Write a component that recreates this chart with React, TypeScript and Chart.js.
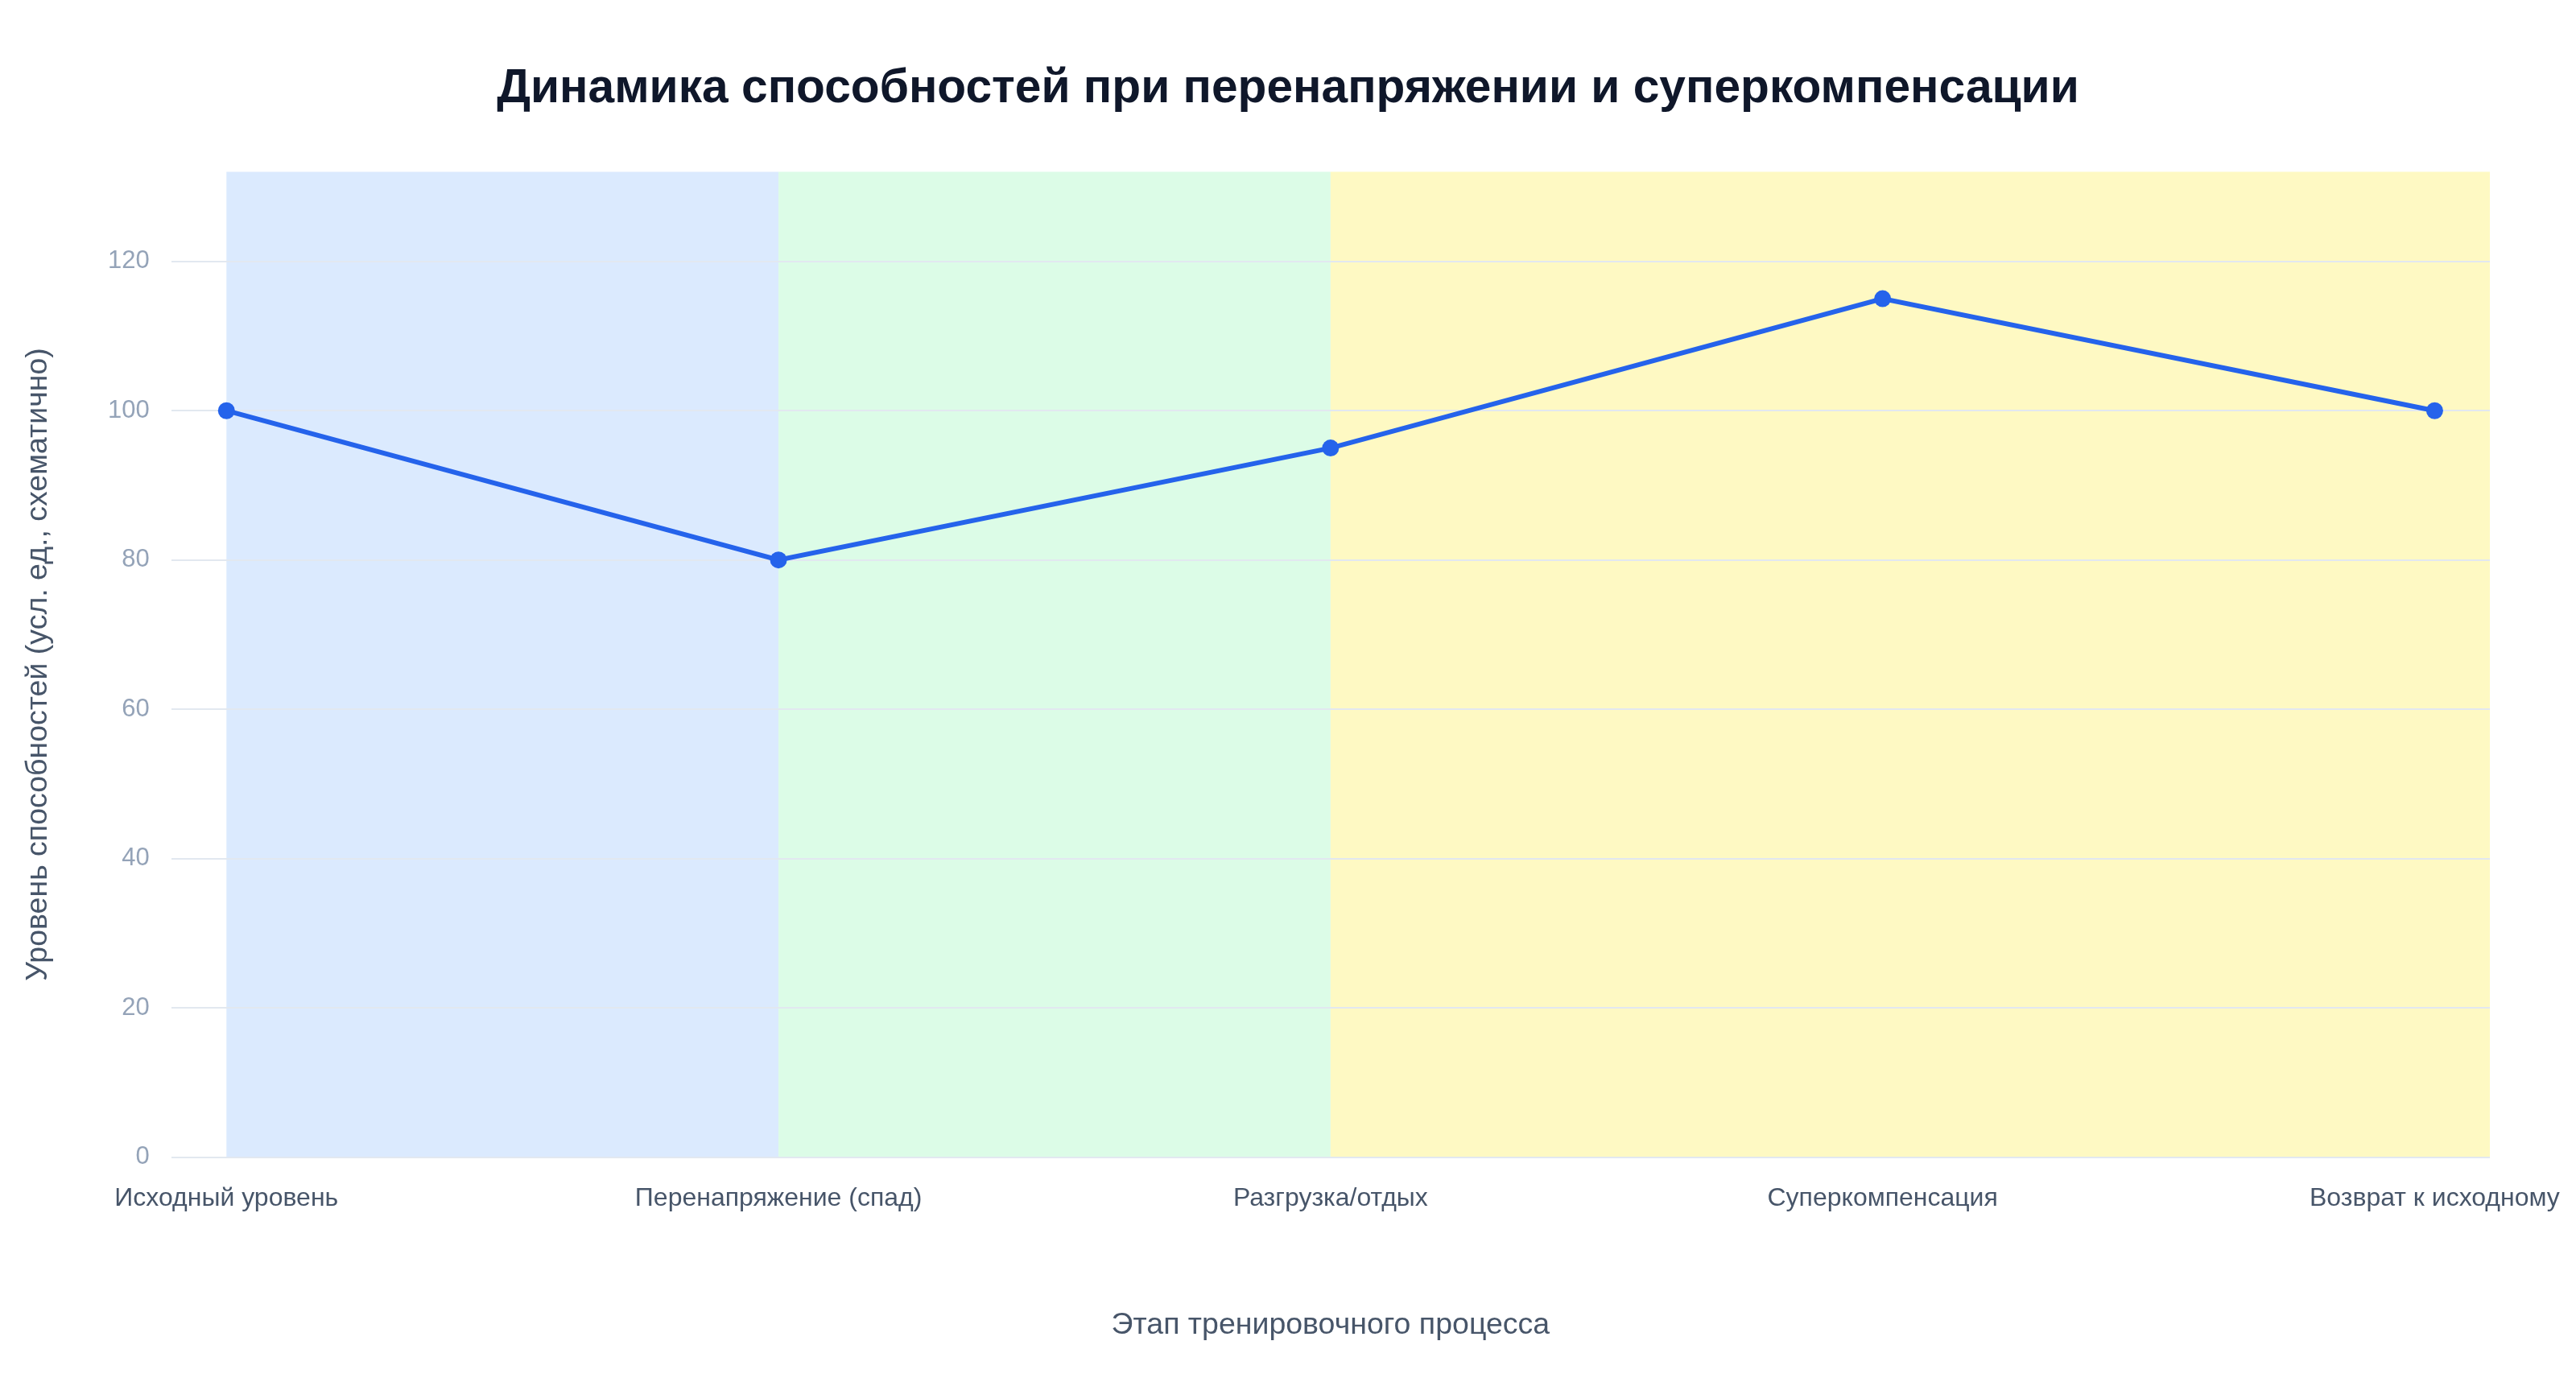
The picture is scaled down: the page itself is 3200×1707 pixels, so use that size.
import React, { useEffect, useRef } from 'react';
import { Chart, registerables } from 'chart.js';

Chart.register(...registerables);

const stages = [
  'Исходный уровень',
  'Перенапряжение (спад)',
  'Разгрузка/отдых',
  'Суперкомпенсация',
  'Возврат к исходному',
];
const levels = [100, 80, 95, 115, 100];

// phase shading (in category index units)
const bandStarts = [0, 1, 2];
const bandEnds = [1, 2, 4.1];
const bandColors = ['#dbeafe', '#dcfce7', '#fef9c3'];

const yTicks = [0, 20, 40, 60, 80, 100, 120];

const FONT = "'Liberation Sans', Arial, sans-serif";

const bandsPlugin = {
  id: 'phaseBands',
  beforeDraw(chart) {
    const { ctx, chartArea, scales } = chart;
    const x = scales.x;
    ctx.save();
    bandStarts.forEach((s, i) => {
      const x0 = x.getPixelForValue(s);
      const x1 = x.getPixelForValue(bandEnds[i]);
      ctx.fillStyle = bandColors[i];
      ctx.fillRect(x0, chartArea.top, x1 - x0, chartArea.bottom - chartArea.top);
    });
    ctx.restore();
  },
};

const App = () => {
  const canvasRef = useRef(null);

  useEffect(() => {
    document.body.style.margin = '0';
    const ctx = canvasRef.current.getContext('2d');

    const chart = new Chart(ctx, {
      type: 'line',
      data: {
        datasets: [
          {
            label: 'Уровень способностей',
            data: levels.map((v, i) => ({ x: i, y: v })),
            borderColor: '#2563eb',
            backgroundColor: '#2563eb',
            borderWidth: 6,
            pointRadius: 10.5,
            pointBorderWidth: 0,
            pointBackgroundColor: '#2563eb',
            tension: 0,
            fill: false,
          },
        ],
      },
      options: {
        animation: false,
        responsive: false,
        devicePixelRatio: 1,
        layout: {
          padding: { left: 10, right: 10, top: 0, bottom: 0 },
        },
        plugins: {
          legend: { display: false },
          tooltip: { enabled: false },
          title: {
            display: true,
            text: 'Динамика способностей при перенапряжении и суперкомпенсации',
            color: '#0f172a',
            font: { family: FONT, size: 58.7, weight: 'bold' },
            padding: { top: 76, bottom: 67 },
          },
        },
        scales: {
          x: {
            type: 'linear',
            min: -0.1,
            max: 4.1,
            afterBuildTicks: (scale) => {
              scale.ticks = stages.map((_, i) => ({ value: i }));
            },
            afterFit: (scale) => {
              // keep the right margin fixed instead of label-driven
              scale.paddingLeft = 0;
              scale.paddingRight = 107;
            },
            grid: { display: false, drawTicks: false },
            border: { display: false },
            ticks: {
              autoSkip: false,
              maxRotation: 0,
              padding: 32,
              color: '#475569',
              font: { family: FONT, size: 32 },
              callback: (value) => stages[value] ?? '',
            },
            title: {
              display: true,
              text: 'Этап тренировочного процесса',
              color: '#475569',
              font: { family: FONT, size: 37.5 },
              padding: { top: 84, bottom: 38 },
            },
          },
          y: {
            min: 0,
            max: 132,
            afterBuildTicks: (scale) => {
              scale.ticks = yTicks.map((v) => ({ value: v }));
            },
            grid: {
              color: '#e2e8f0',
              lineWidth: 2,
              drawTicks: false,
            },
            border: { display: false },
            ticks: {
              padding: 27,
              color: '#94a3b8',
              font: { family: FONT, size: 31 },
            },
            title: {
              display: true,
              text: 'Уровень способностей (усл. ед., схематично)',
              color: '#475569',
              font: { family: FONT, size: 37.5 },
              padding: { top: 15, bottom: 37 },
            },
          },
        },
      },
      plugins: [bandsPlugin],
    });

    return () => chart.destroy();
  }, []);

  return (
    <div style={{ width: 3200, height: 1707, background: '#ffffff' }}>
      <canvas ref={canvasRef} width="3200" height="1707" style={{ display: 'block' }} />
    </div>
  );
};

export default App;
